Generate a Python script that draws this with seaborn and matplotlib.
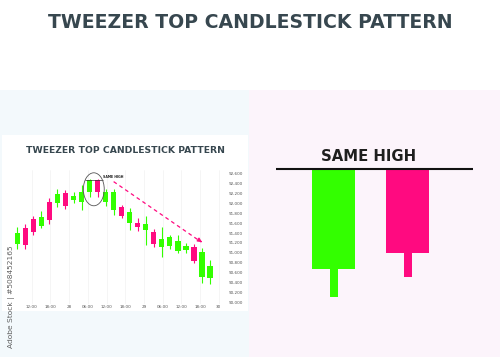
import numpy as np
import matplotlib
matplotlib.use("Agg")
import matplotlib.pyplot as plt
import seaborn as sns
from matplotlib.patches import Ellipse, Rectangle

# ---------------- data ----------------
main_title = "TWEEZER TOP CANDLESTICK PATTERN"
chart_title = "TWEEZER TOP CANDLESTICK PATTERN"
pattern_label = "SAME HIGH"
watermark = "Adobe Stock | #508452165"

opens  = [91180, 91510, 91680, 91540, 92030, 92000, 92200, 92070, 92030, 92220,
          92470, 92030, 91870, 91920, 91600, 91600, 91460, 91430, 91110, 91130,
          91040, 91060, 91110, 90520, 90500]
closes = [91410, 91160, 91430, 91730, 91660, 92180, 91950, 92150, 92240, 92470,
          92220, 92220, 92220, 91750, 91820, 91520, 91580, 91180, 91280, 91310,
          91230, 91140, 90840, 91010, 90730]
highs  = [91530, 91580, 91745, 91850, 92100, 92300, 92270, 92240, 92370, 92485,
          92485, 92300, 92300, 91970, 91900, 91700, 91750, 91480, 91530, 91370,
          91360, 91190, 91170, 91090, 90850]
lows   = [91070, 91070, 91360, 91500, 91580, 91930, 91880, 92010, 91870, 92120,
          92120, 91950, 91770, 91700, 91460, 91450, 91160, 91110, 90910, 91080,
          90990, 91000, 90790, 90380, 90360]
price_ticks = list(range(90000, 92601, 200))
time_labels = ["12:00", "18:00", "28", "06:00", "12:00", "18:00", "29",
               "06:00", "12:00", "18:00", "30"]

# close-up of the pattern (arbitrary units, common high = 100)
zoom_opens  = [40.0, 100.0]
zoom_closes = [100.0, 49.6]
zoom_highs  = [100.0, 100.0]
zoom_lows   = [23.6, 35.6]

GREEN = "#33ff00"
PINK = "#ff0a80"
TITLE_COLOR = "#37474f"

# ---------------- figure ----------------
sns.set_theme(style="white")
plt.rcParams["font.family"] = ["DejaVu Sans"]

W, H = 500, 357
fig = plt.figure(figsize=(5, 3.57), dpi=100, facecolor="white")


def rect(x0, y0, x1, y1):
    return [x0 / W, 1 - y1 / H, (x1 - x0) / W, (y1 - y0) / H]


def add_bg(x0, y0, x1, y1, color):
    r = rect(x0, y0, x1, y1)
    fig.add_artist(Rectangle((r[0], r[1]), r[2], r[3], transform=fig.transFigure,
                             facecolor=color, edgecolor="none", zorder=-10))


add_bg(0, 90, 249, 357, "#f3f9fc")
add_bg(249, 90, 500, 357, "#fcf4fb")
add_bg(2, 135, 248, 311, "#ffffff")


def fit_width(txt, width_px):
    fig.canvas.draw()
    r = fig.canvas.get_renderer()
    for _ in range(3):
        bb = txt.get_window_extent(r)
        txt.set_fontsize(txt.get_fontsize() * width_px / bb.width)


t = fig.text(250 / W, 1 - 22 / H, main_title, ha="center", va="center",
             fontweight="bold", color=TITLE_COLOR, fontsize=14)
fit_width(t, 404)

t2 = fig.text(125 / W, 1 - 150 / H, chart_title, ha="center", va="center",
              fontweight="bold", color=TITLE_COLOR, fontsize=7)
fit_width(t2, 198)

wm = fig.text(12 / W, 1 - 348 / H, watermark, ha="center", va="bottom",
              rotation=90, color="#444444", alpha=0.85, fontsize=7)
fig.canvas.draw()
bbw = wm.get_window_extent(fig.canvas.get_renderer())
wm.set_fontsize(wm.get_fontsize() * 103 / bbw.height)

# ---------------- candlestick chart ----------------
ax = fig.add_axes(rect(8, 170, 222, 304))
ax.set_facecolor("none")
idx = np.arange(len(opens))
o = np.array(opens); c = np.array(closes)
cols = [GREEN if cc > oo else PINK for oo, cc in zip(o, c)]
ax.vlines(idx, lows, highs, colors=cols, lw=0.8, zorder=3)
ax.bar(idx, np.abs(c - o), bottom=np.minimum(o, c), width=0.66, color=cols,
       linewidth=0, zorder=4)
ax.set_xlim(-1.16, 25.5)
ax.set_ylim(89965, 92675)

xt = np.linspace(1.8, 25.1, len(time_labels))
ax.set_xticks(xt)
ax.set_xticklabels(time_labels)
ax.set_yticks(price_ticks)
ax.set_yticklabels([f"{v:,}" for v in price_ticks])
ax.yaxis.tick_right()
ax.tick_params(axis="y", length=0, pad=5, labelsize=3, labelcolor="#555555")
ax.tick_params(axis="x", length=0, pad=1, labelsize=3, labelcolor="#555555")
for lab in ax.get_yticklabels():
    lab.set_ha("left")
ax.grid(axis="x", color="#f2f2f2", lw=0.5)
ax.grid(axis="y", visible=False)
for s in ax.spines.values():
    s.set_visible(False)

# pattern annotations
ax.hlines(92473, 8.4, 10.7, color="#333333", lw=0.5, zorder=5)
ax.text(10.7, 92500, pattern_label, fontsize=2.3, fontweight="bold",
        color="#222222", va="bottom", ha="left")
ax.add_patch(Ellipse((9.53, 92285), 2.6, 667, fill=False, edgecolor="#555555",
                     lw=0.6, zorder=6))
ax.plot([12.0, 22.9], [92440, 91220], color=PINK, lw=0.9, ls=(0, (3, 2.6)),
        zorder=5)
ax.annotate("", xy=(23.3, 91185), xytext=(22.6, 91260),
            arrowprops=dict(arrowstyle="-|>", color=PINK, lw=0.9,
                            mutation_scale=6), zorder=6)

# ---------------- close-up panel ----------------
ax2 = fig.add_axes(rect(249, 90, 500, 357))
ax2.axis("off")
ax2.set_xlim(-1.144, 2.248)
ax2.set_ylim(-12.4, 147.2)
zi = np.arange(len(zoom_opens))
zo = np.array(zoom_opens); zc = np.array(zoom_closes)
zcols = [GREEN if cc > oo else PINK for oo, cc in zip(zo, zc)]
zl = np.array(zoom_lows); zh = np.array(zoom_highs)
ax2.bar(zi, zh - zl, bottom=zl, width=0.109, color=zcols, linewidth=0, zorder=2)
ax2.bar(zi, np.abs(zc - zo), bottom=np.minimum(zo, zc), width=0.588,
        color=zcols, linewidth=0, zorder=3)
ax2.hlines(max(zoom_highs), -0.78, 1.88, color="#111111", lw=1.5, zorder=4)
t3 = ax2.text(0.472, 105, pattern_label, ha="center", va="baseline",
              fontsize=11, fontweight="bold", color="#1f1f1f")
fit_width(t3, 95)

fig.savefig("out.png", dpi=100, facecolor="white")
